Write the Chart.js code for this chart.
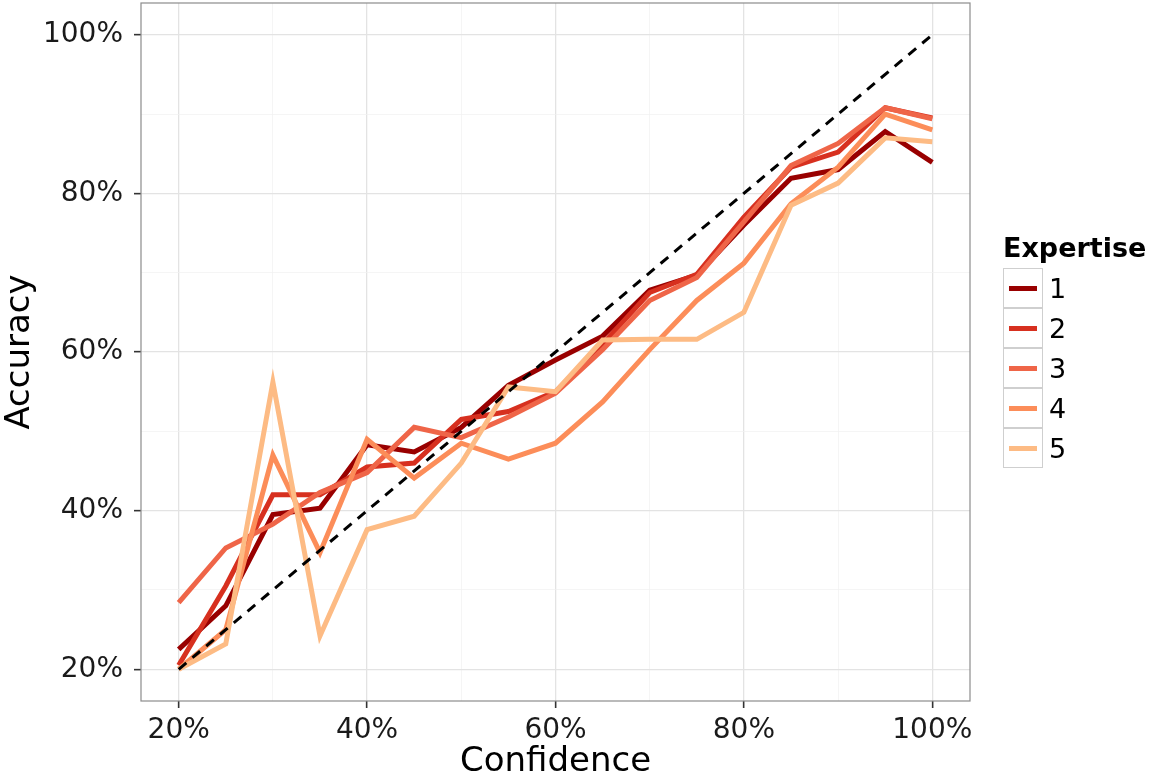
<!DOCTYPE html>
<html>
<head>
<meta charset="utf-8">
<script src="https://cdn.jsdelivr.net/npm/chart.js@4/dist/chart.umd.min.js"></script>
<style>
  body { margin: 0; background: #fff; font-family: "DejaVu Sans", sans-serif; }
  #wrap { position: relative; width: 1159px; height: 780px; }
  #legend { position: absolute; left: 1003px; top: 230px; color: #000; }
  #legend .title { font-weight: bold; font-size: 27px; line-height: 36px; margin-bottom: 2px; }
  #legend .row { display: flex; align-items: center; height: 40px; }
  #legend .key { width: 38px; height: 38px; border: 1px solid #cfcfcf; margin-top: -1px; position: relative; background: #fff; }
  #legend .key span { position: absolute; left: 5px; right: 5px; top: 17px; height: 5px; }
  #legend .lab { font-size: 27px; margin-left: 6px; }
</style>
</head>
<body>
<div id="wrap">
  <canvas id="chart" width="1159" height="780"></canvas>
  <div id="legend"></div>
</div>
<script>
// confidence bins (x) and accuracy per expertise level (y), in %
const confidence = [20, 25, 30, 35, 40, 45, 50, 55, 60, 65, 70, 75, 80, 85, 90, 95, 100];
const expertise1 = [22.5, 28.0, 39.5, 40.3, 48.3, 47.4, 50.5, 55.8, 59.0, 62.0, 67.8, 69.7, 76.0, 81.9, 83.0, 87.8, 83.9];
const expertise2 = [20.5, 30.5, 42.0, 42.0, 45.5, 46.0, 51.5, 52.5, 55.0, 61.0, 67.5, 69.8, 77.0, 83.3, 85.2, 90.8, 89.5];
const expertise3 = [28.4, 35.3, 38.3, 42.3, 44.8, 50.5, 49.2, 51.8, 54.8, 60.3, 66.5, 69.4, 76.4, 83.5, 86.3, 90.8, 89.4];
const expertise4 = [20.0, 25.0, 47.0, 34.7, 49.0, 44.1, 48.5, 46.5, 48.5, 53.7, 60.3, 66.5, 71.2, 78.7, 83.3, 90.0, 88.0];
const expertise5 = [20.0, 23.2, 56.2, 24.2, 37.6, 39.3, 46.0, 55.6, 55.0, 61.5, 61.6, 61.6, 65.0, 78.5, 81.3, 87.0, 86.5];

const levels = ["1", "2", "3", "4", "5"];
const colors = ["#990000", "#d7301f", "#ef6548", "#fc8d59", "#fdbb84"];
const gridValues = [20, 30, 40, 50, 60, 70, 80, 90, 100];
const labelValues = [20, 40, 60, 80, 100];

const series = [expertise1, expertise2, expertise3, expertise4, expertise5];

const datasets = series.map((vals, i) => ({
  label: levels[i],
  data: confidence.map((c, j) => ({ x: c, y: vals[j] })),
  borderColor: colors[i],
  borderWidth: 5,
  pointRadius: 0,
  fill: false,
  order: 6 - i,
}));

// perfect calibration line
datasets.push({
  label: "diag",
  data: [
    { x: confidence[0], y: confidence[0] },
    { x: confidence[confidence.length - 1], y: confidence[confidence.length - 1] },
  ],
  borderColor: "#000",
  borderWidth: 3,
  borderDash: [10, 8],
  pointRadius: 0,
  order: 0,
});

const panelBorder = {
  id: "panelBorder",
  afterDraw(chart) {
    const { ctx, chartArea } = chart;
    ctx.save();
    ctx.strokeStyle = "#8c8c8c";
    ctx.lineWidth = 1.2;
    ctx.strokeRect(chartArea.left, chartArea.top, chartArea.right - chartArea.left, chartArea.bottom - chartArea.top);
    ctx.restore();
  },
};

function isMajor(v) {
  return labelValues.includes(v);
}

function axis(titleText, isX) {
  return {
    type: "linear",
    min: 16,
    max: 104,
    afterBuildTicks: (scale) => {
      scale.ticks = gridValues.map((v) => ({ value: v }));
    },
    afterFit: (scale) => {
      if (isX) {
        scale.height = 79;
      } else {
        scale.width = 141;
        scale.paddingTop = 0;
        scale.paddingBottom = 0;
      }
    },
    border: { display: false },
    grid: {
      color: (ctx) => (isMajor(ctx.tick.value) ? "#e3e3e3" : "#f1f1f1"),
      lineWidth: (ctx) => (isMajor(ctx.tick.value) ? 1.3 : 0.7),
      tickColor: (ctx) => (isMajor(ctx.tick.value) ? "#333" : "rgba(0,0,0,0)"),
      tickWidth: 1.6,
      tickLength: 7,
    },
    ticks: {
      autoSkip: false,
      maxRotation: 0,
      color: "#1a1a1a",
      font: { family: "DejaVu Sans", size: 28 },
      padding: isX ? 6 : 11,
      callback: (v) => (isMajor(v) ? v + "%" : ""),
    },
    title: {
      display: true,
      text: titleText,
      color: "#000",
      font: { family: "DejaVu Sans", size: 34 },
      padding: isX ? { top: 0, bottom: -3 } : 0,
    },
  };
}

new Chart(document.getElementById("chart"), {
  type: "line",
  data: { datasets },
  options: {
    responsive: false,
    devicePixelRatio: 1,
    animation: false,
    events: [],
    layout: { padding: { top: 3, right: 189, bottom: 0, left: 0 } },
    plugins: { legend: { display: false }, tooltip: { enabled: false } },
    scales: {
      x: axis("Confidence", true),
      y: axis("Accuracy", false),
    },
  },
  plugins: [panelBorder],
});

// legend
const legend = document.getElementById("legend");
let html = '<div class="title">Expertise</div>';
levels.forEach((lv, i) => {
  html += '<div class="row"><div class="key"><span style="background:' + colors[i] + '"></span></div><div class="lab">' + lv + "</div></div>";
});
legend.innerHTML = html;
</script>
</body>
</html>
